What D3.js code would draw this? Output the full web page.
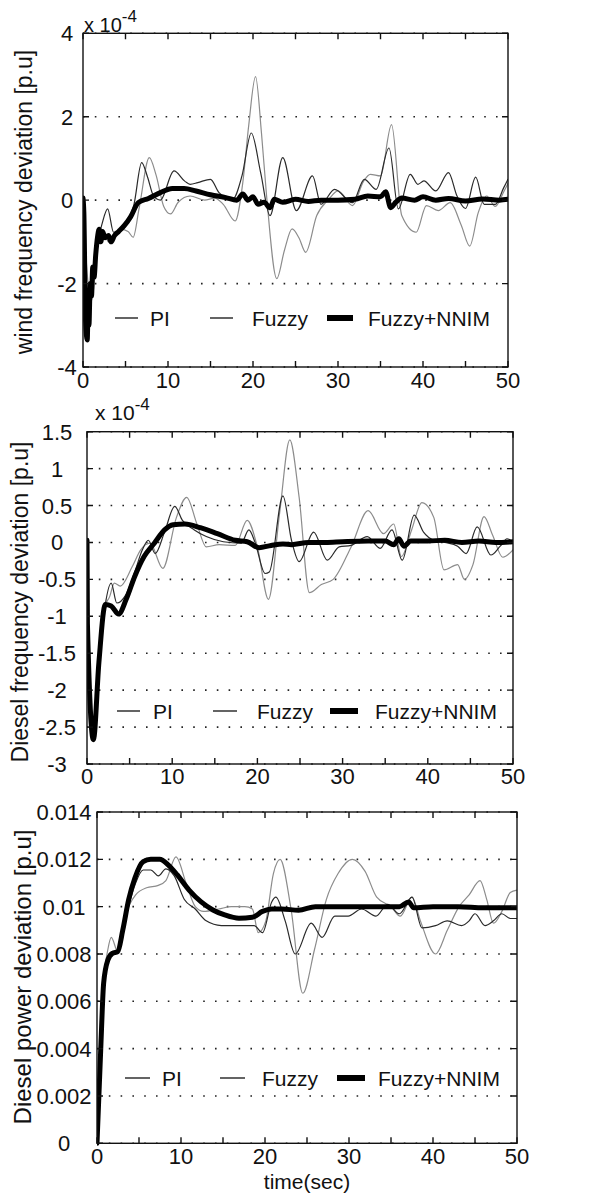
<!DOCTYPE html>
<html>
<head>
<meta charset="utf-8">
<script src="https://cdn.jsdelivr.net/npm/d3@7"></script>
<style>
  body { margin: 0; background: #fff; }
  text { font-family: "Liberation Sans", Arial, sans-serif; fill: #111; }
</style>
</head>
<body>
<div id="chart"></div>
<script>
// ---- data ----
let timeTicks = [0, 5, 10, 15, 20, 25, 30, 35, 40, 45, 50];
let timeLabels = [0, 10, 20, 30, 40, 50];
let legendLabels = ["PI", "Fuzzy", "Fuzzy+NNIM"];

let windTicks = [-4, -2, 0, 2, 4];
let dieselFreqTicks = [-3, -2.5, -2, -1.5, -1, -0.5, 0, 0.5, 1, 1.5];
let dieselPowerTicks = [0, 0.002, 0.004, 0.006, 0.008, 0.01, 0.012, 0.014];

// wind frequency deviation (x 1e-4)
let windPI = [[0,0],[0.3,-1.2],[0.6,-2.0],[0.9,-2.45],[1.2,-2.2],[1.6,-1.3],[2.0,-0.9],[2.5,-0.8],[3.0,-1.0],[3.6,-0.85],[4.5,-0.7],[5.3,-0.75],[5.9,-0.89],[6.6,-0.2],[7.8,1.02],[8.6,0.6],[9.5,-0.15],[10.3,-0.33],[11.2,-0.05],[12.6,0.1],[14.3,0.0],[15.5,0.05],[16.5,-0.1],[17.9,-0.5],[18.8,0.42],[19.5,1.8],[20.3,2.96],[21.0,1.6],[21.6,0.1],[22.8,-1.88],[23.7,-1.2],[24.6,-0.69],[25.4,-0.9],[26.2,-1.25],[27.5,-0.37],[28.9,0.02],[30,0.22],[31.7,-0.13],[33,0.45],[33.8,0.62],[35,0.58],[36.3,1.81],[37.5,-0.37],[39.2,-0.77],[40.4,-0.13],[41.8,-0.25],[43.2,-0.06],[44.5,-0.6],[45.5,-1.1],[46.5,-0.3],[47.5,0.1],[48.5,-0.15],[49.5,0.2],[50,0.4]];
let windFuzzy = [[0,0],[0.2,-1.5],[0.45,-3.07],[0.7,-2.2],[0.9,-2.4],[1.2,-1.6],[1.7,-1.0],[2.2,-0.6],[2.9,-0.21],[3.6,-0.77],[4.3,-0.75],[5.2,-0.55],[6,-0.1],[6.9,0.9],[7.6,0.55],[8.3,0.1],[9.1,0],[10.7,0.7],[12,0.45],[12.6,0.38],[13.5,0.42],[15,0.5],[16,0.18],[17.6,0.02],[18.7,0.58],[19.8,1.61],[20.9,0.66],[22,-0.37],[23.5,1.02],[25.1,-0.25],[27,0.58],[28,-0.1],[29.6,0.26],[31.7,-0.06],[33.1,0.5],[34.5,0.26],[36,1.25],[37.1,-0.21],[38.5,0.62],[39.4,0.38],[40.1,0.46],[41.5,0.22],[43,0.66],[44,0.1],[45,-0.2],[46.2,0.55],[47.2,-0.1],[48.5,-0.1],[49.5,0.3],[50,0.5]];
let windNNIM = [[0,0.05],[0.1,-0.3],[0.3,-2.9],[0.5,-3.35],[0.6,-2.6],[0.7,-3.0],[0.85,-2.0],[1.0,-2.3],[1.15,-1.6],[1.3,-1.85],[1.5,-1.3],[1.7,-0.9],[1.9,-0.7],[2.1,-1.0],[2.3,-0.75],[2.6,-0.9],[3.0,-0.85],[3.3,-1.0],[3.7,-0.85],[4.2,-0.75],[4.9,-0.6],[5.6,-0.4],[6.5,-0.06],[7.7,0.04],[9.1,0.18],[10.5,0.28],[11.9,0.28],[13.3,0.22],[15,0.13],[16.8,0.06],[18.1,0.0],[18.8,0.15],[19.4,0.0],[20,0.08],[20.6,-0.1],[21.3,-0.05],[22,-0.18],[22.5,0.02],[23.5,-0.05],[25,0.02],[26.5,-0.03],[28,0.0],[30,0.0],[32,0.02],[33.5,0.1],[35,0.08],[35.6,0.2],[36.2,-0.18],[36.8,-0.05],[37.5,0.05],[39,0.0],[40,0.08],[41.5,0.0],[43,0.04],[45,-0.02],[47,0.03],[49,0.0],[50,0.02]];

// diesel frequency deviation (x 1e-4)
let dieselFreqPI = [[0,0.02],[0.05,-1.0],[0.7,-2.5],[1.3,-1.6],[2.0,-0.9],[2.67,-0.73],[3.2,-0.55],[3.9,-0.59],[5.3,-0.33],[6.3,-0.1],[7.4,-0.01],[8.9,-0.35],[10.5,0.34],[11.7,0.61],[12.9,0.25],[14,-0.06],[15.5,-0.03],[17.4,-0.04],[18.8,0.3],[20,-0.06],[21.3,-0.77],[22.6,0.39],[23.8,1.39],[24.9,0.61],[26.1,-0.68],[27.5,-0.57],[28.9,-0.5],[31,-0.06],[33,0.43],[34.8,0.12],[36,0.25],[36.9,-0.19],[38.1,0.17],[39.3,0.54],[40.7,0.34],[41.9,-0.37],[43.5,-0.3],[44.3,-0.5],[45.3,-0.3],[46.6,0.35],[47.6,0.1],[48.8,-0.2],[50,-0.1]];
let dieselFreqFuzzy = [[0,0.02],[0.05,-1.0],[0.7,-2.55],[1.3,-1.7],[2.0,-0.95],[2.84,-0.55],[3.5,-0.82],[4.5,-0.72],[5.6,-0.4],[6.5,-0.1],[7.2,0.03],[8,-0.15],[9.1,0.14],[10.3,0.49],[11.2,0.3],[12.6,0.17],[14,0.08],[16,0.01],[18.1,-0.01],[19,0.17],[19.7,0.01],[20.9,-0.42],[21.4,-0.4],[23,0.63],[24,0.03],[24.9,-0.26],[26.6,0.14],[28.2,-0.24],[29.6,-0.06],[31,-0.04],[32.9,0.08],[34.4,-0.08],[35.8,0.17],[37,-0.24],[38.4,0.37],[39.5,0.14],[40.7,0.03],[42,0.0],[43.5,-0.05],[44.5,-0.15],[45.8,0.21],[47.4,-0.17],[48.5,-0.05],[49.3,0.05],[50,0]];
let dieselFreqNNIM = [[0,0.03],[0.05,-1.1],[0.75,-2.67],[1.4,-1.62],[2.15,-0.84],[2.84,-0.86],[3.7,-0.97],[4.6,-0.77],[5.6,-0.46],[6.7,-0.19],[7.9,-0.01],[9.1,0.17],[10.1,0.24],[11.5,0.25],[13.3,0.2],[15.3,0.12],[17.4,0.03],[18.8,0.01],[20.2,-0.07],[21.6,-0.04],[23,-0.02],[24,-0.03],[26,0.0],[28,0.0],[30,0.01],[33,0.02],[35,0.02],[36,-0.03],[36.6,0.05],[37.2,-0.05],[38,0.02],[40,0.02],[42,0.03],[44,0.0],[46,0.02],[48,0.0],[50,0.01]];

// diesel power deviation
let dieselPowerPI = [[0,0],[0.44,0.0039],[0.79,0.0068],[1.3,0.0082],[1.7,0.0087],[2.47,0.0081],[3.07,0.0092],[3.9,0.0101],[4.6,0.0105],[5.9,0.0108],[7.3,0.0109],[8.2,0.0111],[9.4,0.0121],[10.6,0.011],[11.7,0.01],[12.7,0.0098],[14.5,0.0099],[16,0.01],[17.6,0.01],[18.5,0.0099],[19.2,0.0089],[20.1,0.0094],[21,0.0114],[21.8,0.012],[23.1,0.0099],[24.5,0.00634],[25.9,0.0082],[27.3,0.0103],[28.7,0.0114],[30.4,0.012],[31.9,0.0115],[33.3,0.0104],[35,0.01],[36.1,0.0096],[37.5,0.0104],[38.5,0.0094],[40.3,0.008],[41.7,0.009],[43.1,0.01],[44.3,0.0105],[45.6,0.0111],[46.4,0.0103],[47.2,0.0093],[48.2,0.0098],[49.2,0.0106],[50,0.0107]];
let dieselPowerFuzzy = [[0,0],[0.44,0.0039],[0.79,0.0068],[1.3,0.0079],[1.84,0.0081],[2.47,0.0081],[3.07,0.009],[3.9,0.0102],[4.6,0.011],[5.5,0.01155],[6.4,0.01155],[7.3,0.0113],[8.2,0.0116],[9.2,0.0113],[10.4,0.0103],[11.7,0.0099],[13,0.0094],[14.8,0.0092],[16.9,0.0092],[18.7,0.0092],[19.7,0.0089],[20.8,0.0102],[21.3,0.0104],[22.4,0.0094],[23.6,0.008],[25.5,0.0093],[26.8,0.0087],[28.3,0.0096],[29.9,0.0096],[31.5,0.0099],[33.2,0.0096],[34.6,0.0101],[36,0.0097],[37.5,0.0104],[38.7,0.0091],[40.3,0.0092],[41.7,0.0094],[43.4,0.0092],[44.3,0.0094],[45,0.0097],[46.2,0.0092],[47.2,0.0094],[48.2,0.0097],[49.2,0.0095],[50,0.0095]];
let dieselPowerNNIM = [[0,0],[0.44,0.00394],[0.79,0.00676],[1.3,0.00775],[1.84,0.00803],[2.47,0.0081],[3.07,0.00901],[3.77,0.0103],[4.5,0.0112],[5.5,0.0119],[6.4,0.012],[7.46,0.012],[8.5,0.01176],[9.56,0.01134],[10.96,0.0107],[12.4,0.0102],[13.8,0.00986],[15.2,0.00965],[16.9,0.00951],[18.5,0.00955],[19.7,0.0098],[20.8,0.0099],[22,0.0099],[24,0.00985],[26,0.01],[28,0.01],[30,0.01],[33,0.01],[36,0.01],[37.1,0.0102],[37.7,0.00995],[40,0.01],[43,0.01],[46,0.00995],[50,0.00995]];

// ---- layout ----
let width = 589, height = 1194;
let tickFont = 22;
let lineStyles = [
    { color: "#8c8c8c", width: 1.2 },   // PI
    { color: "#2a2a2a", width: 1.2 },   // Fuzzy
    { color: "#000000", width: 5 }      // Fuzzy+NNIM
];

let panels = [
    { left: 83, right: 508, top: 33.3, bottom: 367, domain: [-4, 4], ticks: windTicks,
      series: [windPI, windFuzzy, windNNIM], title: "wind  frequency deviation [p.u]",
      titleX: 24, titleY: 202, titleSize: 23, yLabelX: 67, xLabelY: 388,
      exp: { x: 84, y: 32, size: 20, sup: 17 },
      legendY: 318, legend: [[115, 138, 150], [210, 233, 252], [327, 353, 368]] },
    { left: 87, right: 513, top: 431.7, bottom: 764, domain: [-3, 1.5], ticks: dieselFreqTicks,
      series: [dieselFreqPI, dieselFreqFuzzy, dieselFreqNNIM], title: "Diesel frequency deviation [p.u]",
      titleX: 20, titleY: 602, titleSize: 23, yLabelX: 57, xLabelY: 784,
      exp: { x: 95, y: 420, size: 21, sup: 17 },
      legendY: 711, legend: [[117, 140, 153], [213, 237, 257], [330, 358, 375]] },
    { left: 97, right: 517, top: 812, bottom: 1143.3, domain: [0, 0.014], ticks: dieselPowerTicks,
      series: [dieselPowerPI, dieselPowerFuzzy, dieselPowerNNIM], title: "Diesel power deviation [p.u]",
      titleX: 22, titleY: 977, titleSize: 24, yLabelX: 64, xLabelY: 1164,
      exp: null, xTitle: "time(sec)", xTitleY: 1189,
      legendY: 1078, legend: [[125, 150, 162], [220, 245, 262], [337, 365, 378]] }
];

let svg = d3.select("#chart").append("svg")
    .attr("width", width)
    .attr("height", height);

function fmt(d) {
    if (d === 0) return "0";
    return String(+d.toFixed(3));
}

function drawPanel(p, idx) {
    let x = d3.scaleLinear().domain([0, 50]).range([p.left, p.right]);
    let y = d3.scaleLinear().domain(p.domain).range([p.bottom, p.top]);
    let g = svg.append("g");

    // dotted grid
    g.selectAll(".grid")
        .data(p.ticks)
        .enter()
        .append("line")
        .attr("x1", p.left).attr("x2", p.right)
        .attr("y1", y).attr("y2", y)
        .style("stroke", "#222")
        .style("stroke-width", 1.6)
        .style("stroke-dasharray", "1.6,10.2");

    // series
    let clipId = "clip" + idx;
    svg.append("clipPath").attr("id", clipId)
        .append("rect")
        .attr("x", p.left).attr("y", p.top - 4)
        .attr("width", p.right - p.left).attr("height", p.bottom - p.top + 8);
    let line = d3.line()
        .x(d => x(d[0]))
        .y(d => y(d[1]))
        .curve(d3.curveMonotoneX);
    g.append("g").attr("clip-path", "url(#" + clipId + ")")
        .selectAll("path")
        .data(p.series)
        .enter()
        .append("path")
        .attr("d", line)
        .style("fill", "none")
        .style("stroke", (d, i) => lineStyles[i].color)
        .style("stroke-width", (d, i) => lineStyles[i].width)
        .style("stroke-linejoin", "round")
        .style("stroke-linecap", "round");

    // box
    g.append("rect")
        .attr("x", p.left).attr("y", p.top)
        .attr("width", p.right - p.left).attr("height", p.bottom - p.top)
        .style("fill", "none")
        .style("stroke", "#111")
        .style("stroke-width", 1.4);

    // inward ticks on all four sides
    let tl = 6;
    g.selectAll(".xtb")
        .data(timeTicks)
        .enter()
        .append("path")
        .attr("d", d => "M" + x(d) + "," + p.bottom + "v" + (-tl) + "M" + x(d) + "," + p.top + "v" + tl)
        .style("stroke", "#111")
        .style("stroke-width", 1.4);
    g.selectAll(".ytb")
        .data(p.ticks)
        .enter()
        .append("path")
        .attr("d", d => "M" + p.left + "," + y(d) + "h" + tl + "M" + p.right + "," + y(d) + "h" + (-tl))
        .style("stroke", "#111")
        .style("stroke-width", 1.4);

    // tick labels
    g.selectAll(".xl")
        .data(timeLabels)
        .enter()
        .append("text")
        .attr("x", x)
        .attr("y", p.xLabelY)
        .attr("text-anchor", "middle")
        .attr("font-size", tickFont)
        .text(d => d);
    g.selectAll(".yl")
        .data(p.ticks)
        .enter()
        .append("text")
        .attr("x", p.yLabelX)
        .attr("y", d => y(d) + 8)
        .attr("text-anchor", "middle")
        .attr("font-size", tickFont)
        .text(fmt);

    // y title
    g.append("text")
        .attr("transform", "translate(" + p.titleX + "," + p.titleY + ") rotate(-90)")
        .attr("text-anchor", "middle")
        .attr("dominant-baseline", "central")
        .attr("font-size", p.titleSize)
        .text(p.title);

    // exponent
    if (p.exp) {
        let t = g.append("text")
            .attr("x", p.exp.x).attr("y", p.exp.y)
            .attr("font-size", p.exp.size);
        t.append("tspan").text("x 10");
        t.append("tspan").attr("dy", -10).attr("font-size", p.exp.sup).text("-4");
    }

    // x title
    if (p.xTitle) {
        g.append("text")
            .attr("x", (p.left + p.right) / 2)
            .attr("y", p.xTitleY)
            .attr("text-anchor", "middle")
            .attr("font-size", 21)
            .text(p.xTitle);
    }

    // legend
    let lg = g.selectAll(".lg")
        .data(p.legend)
        .enter()
        .append("g");
    lg.append("line")
        .attr("x1", d => d[0]).attr("x2", d => d[1])
        .attr("y1", p.legendY).attr("y2", p.legendY)
        .style("stroke", (d, i) => i === 2 ? "#000" : "#222")
        .style("stroke-width", (d, i) => i === 2 ? 6 : 1.4);
    lg.append("text")
        .attr("x", d => d[2])
        .attr("y", p.legendY + 8)
        .attr("font-size", 21)
        .text((d, i) => legendLabels[i]);
}

panels.forEach(drawPanel);
</script>
</body>
</html>
